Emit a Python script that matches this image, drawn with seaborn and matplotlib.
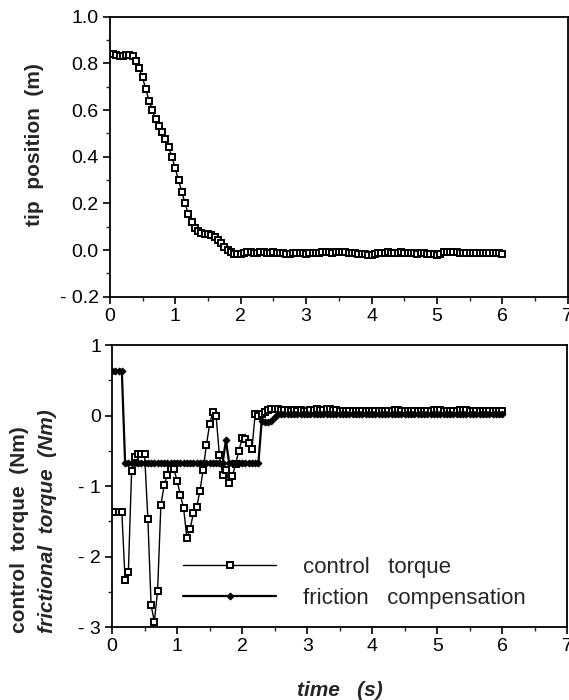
import numpy as np
import matplotlib
matplotlib.use('Agg')
import matplotlib.pyplot as plt
import seaborn as sns
from matplotlib.ticker import MultipleLocator

sns.set_style('ticks')
plt.rcParams['font.family'] = ['Liberation Sans', 'DejaVu Sans']

# sample times, 0.05 s step from 0 to 6 s
time_s = np.round(np.arange(121) * 0.05, 2)

tip_position = [
    0.84, 0.84, 0.835, 0.83, 0.83, 0.835, 0.835, 0.83, 0.81, 0.78,
    0.74, 0.69, 0.64, 0.60, 0.56, 0.53, 0.505, 0.475, 0.44, 0.40,
    0.35, 0.30, 0.25, 0.20, 0.155, 0.12, 0.095, 0.08, 0.075, 0.07,
    0.07, 0.065, 0.055, 0.045, 0.03, 0.015, 0.0, -0.01, -0.015, -0.015,
    -0.015,
    -0.012, -0.01, -0.01, -0.012, -0.012, -0.01, -0.01, -0.012, -0.012, -0.01,
    -0.012, -0.012, -0.012, -0.015, -0.015, -0.012, -0.012, -0.012, -0.012,
    -0.015, -0.012, -0.012, -0.012, -0.012, -0.01, -0.01, -0.01, -0.012, -0.01,
    -0.01, -0.01, -0.01, -0.012, -0.012, -0.012, -0.015, -0.015, -0.018, -0.02,
    -0.02, -0.015, -0.012, -0.012, -0.012, -0.01, -0.012, -0.012, -0.012, -0.01,
    -0.012, -0.012, -0.012, -0.012, -0.015, -0.012, -0.012, -0.015, -0.015, -0.018,
    -0.02, -0.015, -0.01, -0.01, -0.01, -0.01, -0.01, -0.012, -0.012, -0.012,
    -0.012, -0.012, -0.012, -0.012, -0.012, -0.012, -0.012, -0.012, -0.012, -0.012,
    -0.015,
]

control_torque = [
    -1.37, -1.37, -1.37, -1.37,
    -2.33, -2.22, -0.79, -0.58, -0.55, -0.55, -0.55, -1.46, -2.69, -2.92,
    -2.48, -1.27, -0.99, -0.84, -0.76, -0.76, -0.92, -1.13, -1.31, -1.74,
    -1.61, -1.38, -1.30, -1.07, -0.77, -0.42, -0.12, 0.05, -0.01, -0.56,
    -0.84, -0.77, -0.95, -0.86, -0.68, -0.50, -0.32, -0.33, -0.39, -0.48,
    0.02, 0.0,
    0.03, 0.05, 0.08, 0.09, 0.10, 0.09, 0.08, 0.08, 0.08, 0.07,
    0.08, 0.07, 0.08, 0.07, 0.07, 0.08, 0.08, 0.09, 0.08, 0.08,
    0.09, 0.09, 0.08, 0.08, 0.07, 0.07, 0.06, 0.06, 0.06, 0.06,
    0.06, 0.06, 0.07, 0.06, 0.06, 0.06, 0.07, 0.07, 0.07, 0.06,
    0.07, 0.08, 0.08, 0.07, 0.06, 0.06, 0.06, 0.07, 0.06, 0.06,
    0.06, 0.06, 0.07, 0.08, 0.08, 0.08, 0.07, 0.06, 0.06, 0.06,
    0.07, 0.08, 0.08, 0.08, 0.07, 0.07, 0.07, 0.06, 0.07, 0.06,
    0.06, 0.06, 0.07, 0.06, 0.06,
]

# friction compensation is piecewise constant
friction_comp = (
    [0.63] * 4
    + [-0.67] * 31
    + [-0.35]
    + [-0.67] * 10
    + [-0.08, -0.09, -0.09, -0.07, -0.02]
    + [0.03] * 70
)

fig = plt.figure(figsize=(5.69, 7.0), dpi=100)
ax1 = fig.add_axes([0.193, 0.576, 0.805, 0.400])
ax2 = fig.add_axes([0.197, 0.104, 0.800, 0.403])

sq = dict(marker='s', markersize=5, markerfacecolor='white',
          markeredgecolor='black', markeredgewidth=1.4)

# --- top: tip position ---
sns.lineplot(x=time_s, y=tip_position, ax=ax1, color='black', lw=1, **sq)
ax1.set_xlim(0, 7)
ax1.set_ylim(-0.2, 1.0)
ax1.set_xticks(range(8))
ax1.set_yticks([-0.2, 0.0, 0.2, 0.4, 0.6, 0.8, 1.0])
ax1.set_yticklabels(['- 0.2', '0.0', '0.2', '0.4', '0.6', '0.8', '1.0'])
ax1.yaxis.set_minor_locator(MultipleLocator(0.1))

# --- bottom: torques ---
sns.lineplot(x=time_s, y=control_torque, ax=ax2, color='black', lw=1,
             label='control   torque', **sq)
sns.lineplot(x=time_s, y=friction_comp, ax=ax2, color='black', lw=1.6,
             marker='D', markersize=3.5, markerfacecolor='black',
             markeredgecolor='black', label='friction   compensation')
ax2.set_xlim(0, 7)
ax2.set_ylim(-3, 1)
ax2.set_xticks(range(8))
ax2.set_yticks([-3, -2, -1, 0, 1])
ax2.set_yticklabels(['- 3', '- 2', '- 1', '0', '1'])
ax2.yaxis.set_minor_locator(MultipleLocator(0.5))

for ax in (ax1, ax2):
    ax.xaxis.set_minor_locator(MultipleLocator(0.5))
    ax.set_xlabel('')
    ax.set_ylabel('')
    for s in ax.spines.values():
        s.set_visible(True)
        s.set_linewidth(1.3)
        s.set_color('black')
    ax.tick_params(which='major', direction='out', length=5, width=1.2,
                   labelsize=14, pad=3, colors='black')
    ax.tick_params(which='minor', direction='out', length=3, width=1.0)

ax2.legend(loc='center left', bbox_to_anchor=(0.156, 0.156), frameon=False,
           fontsize=16, handlelength=4.2, handletextpad=1.2,
           borderpad=0, borderaxespad=0, labelspacing=0.45)

fig.text(0.0615, 0.794, 'tip  position  (m)', rotation=90, ha='center',
         va='center', fontsize=15, fontweight='bold')
fig.text(0.035, 0.096, 'control  torque  (Nm)', rotation=90, ha='center',
         va='bottom', fontsize=15, fontweight='bold')
fig.text(0.083, 0.096, 'frictional  torque  (Nm)', rotation=90, ha='center',
         va='bottom', fontsize=15, fontweight='bold', fontstyle='italic')
fig.text(0.598, 0.014, 'time   (s)', ha='center', va='center', fontsize=15,
         fontweight='bold', fontstyle='italic')

fig.savefig('out.png', dpi=100)
